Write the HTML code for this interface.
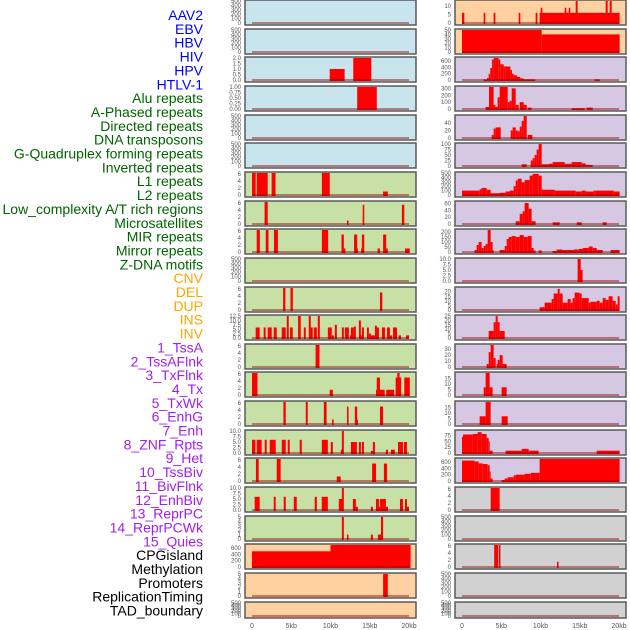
<!DOCTYPE html>
<html><head><meta charset="utf-8"><style>
body{margin:0;background:#fff;width:630px;height:630px;overflow:hidden}
svg{display:block}
</style></head><body>
<svg id="c" width="630" height="630" xmlns="http://www.w3.org/2000/svg"></svg>
<script>
const labels=["AAV2","EBV","HBV","HIV","HPV","HTLV-1","Alu repeats","A-Phased repeats","Directed repeats","DNA transposons","G-Quadruplex forming repeats","Inverted repeats","L1 repeats","L2 repeats","Low_complexity A/T rich regions","Microsatellites","MIR repeats","Mirror repeats","Z-DNA motifs","CNV","DEL","DUP","INS","INV","1_TssA","2_TssAFlnk","3_TxFlnk","4_Tx","5_TxWk","6_EnhG","7_Enh","8_ZNF_Rpts","9_Het","10_TssBiv","11_BivFlnk","12_EnhBiv","13_ReprPC","14_ReprPCWk","15_Quies","CPGisland","Methylation","Promoters","ReplicationTiming","TAD_boundary"];
const labelColors=["#0000ff","#0000ff","#0000ff","#0000ff","#0000ff","#0000ff","#006400","#006400","#006400","#006400","#006400","#006400","#006400","#006400","#006400","#006400","#006400","#006400","#006400","#ffa500","#ffa500","#ffa500","#ffa500","#ffa500","#a020f0","#a020f0","#a020f0","#a020f0","#a020f0","#a020f0","#a020f0","#a020f0","#a020f0","#a020f0","#a020f0","#a020f0","#a020f0","#a020f0","#a020f0","#000","#000","#000","#000","#000"];
const xTicks=[0,5,10,15,20];
const xTickLabels=["0","5kb","10kb","15kb","20kb"];
const T500=[0,100,200,300,400,500],T6=[0,2,4,6];
// left column: ticks, ymax, bars [startKb,endKb,value]
const leftTicks=[T500,T500,[0,0.5,1,1.5,2],[0,0.25,0.5,0.75,1],T500,T500,T6,T6,T6,T500,T6,[0,2.5,5,7.5,10,12.5],T6,T6,T6,[0,2.5,5,7.5,10],T6,[0,2.5,5,7.5,10],[0,1,2,3,4,5],[0,200,400,600],[0,1,2,3,4,5],T500];
const leftMax=[500,500,2,1,500,500,6.3,6.3,6.3,500,6.3,12.5,6.3,6.3,6.3,10,6.3,10,5,700,5,500];
const L2=[[9.9,11.8,1],[12.9,15.2,2]];
const L3=[[13.4,15.9,1]];
const L6=[[0,0.47,6.3],[0.6,2.0,6.3],[2.5,3.0,6.3],[8.9,9.9,6.3],[16.7,17.3,1]];
const L7=[[1.6,2.0,6.3],[12.1,12.3,1],[14.1,14.3,5.5],[19.1,19.4,5.5]];
const L8=[[0.6,1.0,6.3],[1.75,2.1,6.3],[2.8,3.3,6.3],[8.9,9.7,6.3],[11.4,11.7,5],[11.6,11.9,1],[13.0,13.4,5],[13.2,13.5,1],[13.9,14.1,1],[14.0,14.3,5],[16.0,16.3,1],[16.7,17.1,5],[16.9,17.3,1],[19.5,20.1,1]];
const L10=[[3.96,4.25,6.3],[4.9,5.2,6.3],[16.3,16.6,5]];
const L11=[[0.47,0.98,6],[1.49,1.74,6],[2.0,2.51,6],[2.77,3.15,6],[3.79,4.3,6],[4.43,4.68,12.5],[4.85,5.19,6],[5.87,6.21,12.5],[6.6,6.85,6],[7.23,7.49,12.5],[7.4,7.74,6],[7.87,8.26,6],[8.38,8.64,12.5],[9.66,10.17,6],[10.17,10.43,1.5],[10.55,10.81,7.5],[11.45,11.7,6],[11.83,12.34,6],[12.47,12.72,1.5],[12.6,12.98,6],[12.98,13.23,6.5],[13.62,13.87,10],[13.74,14.0,1.5],[14.0,14.26,6],[14.64,14.89,6],[14.89,15.15,2.5],[15.15,15.66,1.5],[15.66,15.91,7],[15.79,16.17,6],[16.55,16.94,6],[17.19,17.57,6],[17.57,17.83,1.5],[17.96,18.47,6],[18.68,18.98,1.5],[19.62,20.0,1.5]];
const L12=[[8.1,8.6,6.3]];
const L13=[[0,0.7,6.3],[9.9,10.3,1.5],[15.8,16.9,1.5],[15.9,16.3,5],[17.1,18.1,1.5],[18.3,19.0,5],[18.5,18.8,6.3],[19.4,20.1,5]];
const L14=[[4.0,4.3,6.3],[6.85,7.1,6.3],[9.15,9.5,6.3],[10.2,10.4,1.3],[12.1,12.3,5],[13.1,13.4,5],[13.2,13.5,1.2],[16.3,16.7,5]];
const L15=[[0,0.43,6],[0.6,1.23,6],[1.62,1.87,6],[2.26,3.02,6],[3.79,4.3,6],[4.55,4.8,6],[6.08,6.34,6],[8.89,9.66,6],[10.04,10.3,5],[11.32,11.57,1.5],[11.45,11.7,10],[12.6,13.36,5],[13.62,13.87,5],[14.0,14.26,5],[15.15,15.4,1],[15.4,15.66,5],[17.06,17.32,1.5],[17.7,18.2,1.5],[18.6,19.23,5],[19.36,19.74,5]];
const L16=[[0.5,0.85,6.3],[3.15,3.65,6.3],[10.8,11.3,1.3],[15.3,15.8,5],[16.8,17.2,5]];
const L17=[[0.34,0.98,6],[2.77,3.02,6],[4.04,4.3,6],[5.32,5.7,6],[7.99,8.26,6],[8.89,9.66,6],[11.06,11.57,5],[11.45,11.7,10],[12.85,13.23,5],[13.23,13.49,1.5],[15.15,15.4,1.5],[15.79,16.17,5],[16.04,16.3,1.5],[16.3,17.06,5],[17.06,17.32,1.5],[18.85,19.23,5],[19.49,19.74,5],[19.74,20.0,1.5]];
const L18=[[11.45,11.7,5],[12.1,12.3,1],[15.15,15.4,1],[16.04,16.43,1],[16.43,16.7,5]];
const L19=[[0,10,500],[10,20.2,700]];
const L20=[[16.7,17.3,5]];
const leftBars=[[],[],L2,L3,[],[],L6,L7,L8,[],L10,L11,L12,L13,L14,L15,L16,L17,L18,L19,L20,[]];
// right column
const rightTicks=[[0,5,10],[0,10,20,30,40,50],[0,200,400,600],[0,100,200,300],[0,20,40],[0,25,50,75,100],T500,[0,20,40,60],[0,50,100,150,200],[0,2.5,5,7.5,10],[0,5,10,15,20],[0,5,10,15,20,25],[0,10,20,30],[0,5,10,15],[0,5,10,15],[0,25,50,75],[0,200,400,600],T6,T500,T6,T500,T500];
const rightMax=[13,50,700,320,58,100,500,65,220,10,24,25,37,20,20,95,700,6.3,500,6.3,500,500];
const R0=[[0,0.3,6],[2.76,2.97,6],[4.03,4.25,6],[7.22,7.43,6],[9.38,9.6,6],[9.89,20.08,6],[10.02,10.23,9],[13.08,13.29,9],[13.59,13.8,9],[14.48,14.73,13],[18.3,18.56,13],[18.81,19.07,13]];
const R1=[[0,10.15,50],[10.15,20.08,40]];
const R2=[[2.76,3.18,20],[3.18,3.4,60],[3.4,3.6,200],[3.6,3.82,380],[3.82,4.03,650],[4.03,4.67,700],[4.67,4.88,650],[4.88,5.31,500],[5.31,5.52,430],[5.52,6.16,430],[6.16,6.37,320],[6.37,6.58,200],[6.58,7.0,150],[7.0,7.43,100],[7.43,7.86,50],[7.86,9.34,20],[16.9,17.54,20]];
const R3=[[3.01,3.44,30],[3.44,4.03,320],[4.03,4.25,60],[4.25,4.54,30],[4.54,4.8,170],[4.8,5.82,320],[5.82,6.07,100],[6.07,6.33,120],[6.33,6.84,300],[6.84,7.22,60],[7.35,7.86,100],[7.86,8.24,60],[8.37,8.87,20],[13.97,15.63,10],[15.88,16.65,20]];
const R4=[[3.78,4.03,8],[4.03,4.29,25],[4.29,4.93,28],[6.2,6.45,20],[6.45,6.84,28],[6.84,7.09,20],[7.09,7.35,18],[7.35,7.6,30],[7.6,7.86,45],[7.86,8.24,58],[8.37,8.96,8]];
const R5=[[7.6,8.24,8],[8.75,9.0,25],[9.0,9.26,35],[9.26,9.51,50],[9.51,9.77,75],[9.77,10.15,100],[10.15,11.04,8],[11.04,11.55,10],[11.55,13.08,18],[13.08,13.97,10],[13.97,15.24,18],[15.24,15.75,12],[15.75,16.65,5]];
const R6=[[0,2.25,100],[2.25,2.5,130],[2.5,3.14,160],[3.14,3.65,120],[3.65,4.8,40],[4.8,5.56,50],[5.56,6.07,80],[6.07,6.58,100],[6.58,6.84,200],[6.84,7.09,330],[7.09,7.6,370],[7.6,7.98,290],[7.98,8.62,340],[8.62,9.0,440],[9.0,9.77,480],[9.77,10.15,440],[10.15,11.8,120],[11.8,14.48,100],[14.48,15.24,80],[15.24,15.75,100],[15.75,16.77,80],[16.77,17.03,100],[17.03,19.32,100],[19.32,20.08,80]];
const R7=[[6.84,7.35,8],[7.35,7.73,30],[7.73,7.98,38],[7.98,8.49,62],[8.49,8.87,45],[8.87,9.38,8],[11.55,12.44,5],[14.61,15.24,5],[17.92,18.43,5]];
const R8=[[1.61,1.87,20],[1.87,2.12,70],[2.12,2.5,100],[2.5,2.76,40],[2.76,3.01,60],[3.01,3.27,80],[3.27,3.65,220],[3.65,3.9,100],[3.9,4.03,20],[4.8,5.44,20],[5.44,5.69,60],[5.69,5.94,130],[5.94,6.33,150],[6.33,6.84,160],[6.84,7.35,150],[7.35,7.86,170],[7.86,8.37,150],[8.37,8.87,160],[8.87,9.13,40],[9.13,9.38,15],[9.77,10.15,15],[11.55,12.06,10],[12.06,12.82,25],[12.82,14.23,20],[14.23,14.86,25],[14.86,15.37,30],[15.37,16.14,40],[16.14,16.65,55],[16.65,17.16,40],[17.16,17.92,20],[18.94,20.08,20]];
const R9=[[14.73,15.12,10],[14.99,15.37,5]];
const R10=[[9.89,10.53,3],[10.53,11.42,8],[11.42,11.68,12],[11.68,12.19,18],[12.19,12.44,23],[12.44,12.82,18],[12.82,13.46,8],[13.46,13.84,12],[13.84,14.1,8],[14.1,14.35,13],[14.35,14.99,19],[14.99,15.24,18],[15.24,16.14,13],[16.14,16.39,8],[16.39,17.16,9],[17.16,17.54,10],[17.54,17.92,8],[17.92,18.3,13],[18.3,18.68,11],[18.68,19.19,15],[19.19,19.58,10],[19.58,19.83,6],[19.83,20.08,15]];
const R11=[[3.4,4.03,8],[4.03,4.29,18],[4.29,4.54,25],[4.54,4.8,18],[4.8,5.44,8]];
const R12=[[3.14,3.4,5],[3.4,3.65,25],[3.65,4.03,37],[4.03,4.29,15],[4.42,4.67,5],[4.54,4.8,12],[4.8,5.18,20],[5.18,5.69,5]];
const R13=[[2.76,3.01,7],[3.01,3.52,20],[3.52,3.9,7],[5.05,5.69,7]];
const R14=[[2.25,3.01,7],[3.01,3.65,20],[5.05,5.82,7]];
const R15=[[0,0.13,70],[0.13,1.36,80],[1.36,2.0,82],[2.0,2.5,90],[2.5,3.14,82],[3.14,3.4,65],[3.4,3.52,50],[3.52,3.9,10],[5.56,7.6,10],[7.6,8.49,18],[8.49,9.77,10],[17.16,20.08,10]];
const R16=[[0,1.61,650],[1.61,2.12,620],[2.12,2.63,560],[2.63,3.27,540],[3.27,3.52,500],[3.52,3.65,300],[3.65,3.9,80],[5.05,5.44,30],[5.44,5.82,80],[5.82,6.58,120],[6.58,6.84,180],[6.84,7.98,200],[7.98,8.75,230],[8.75,9.89,260],[9.89,20.08,700]];
const R17=[[3.65,4.8,6.3]];
const R19=[[4.1,4.6,6.3],[4.7,4.9,6.3],[12.1,12.3,1.5]];
const rightBars=[R0,R1,R2,R3,R4,R5,R6,R7,R8,R9,R10,R11,R12,R13,R14,R15,R16,R17,[],R19,[],[]];

const NS="http://www.w3.org/2000/svg";
const svg=document.getElementById('c');
function mk(tag,attrs,parent){const e=document.createElementNS(NS,tag);for(const k in attrs)e.setAttribute(k,attrs[k]);(parent||svg).appendChild(e);return e;}
const rowTop=r=>Math.round(r*28.65);
const rowH=r=>r===21?16:25;
const colLeft=[245,455];
const PW=171;
const xScale=(col,kb)=>colLeft[col]+7+kb*7.85;
const leftBg=r=>r<6?"#c8e4ec":(r<19?"#c7e0a5":"#ffd1a1");
const rightBg=r=>r<2?"#ffd1a1":(r<17?"#d6c7e3":"#d1d1d1");

// labels
labels.forEach((t,i)=>{
  const e=mk('text',{x:203,y:15+i*13.85+5,'text-anchor':'end','font-family':'Liberation Sans, sans-serif','font-size':'14',fill:labelColors[i]});
  e.textContent=t;
  
  
});

function panel(col,r,ticks,ymax,bars){
  const top=rowTop(r),h=rowH(r),x0=colLeft[col];
  const g=mk('g',{});
  
  
  mk('rect',{x:x0,y:top,width:PW,height:h,fill:col?rightBg(r):leftBg(r)},g);
  const y0=top+h-2,y1=top+1;
  const yS=v=>y0-(v/ymax)*(y0-y1);
  bars.forEach(b=>{
    const xa=xScale(col,b[0]),xb=xScale(col,b[1]);
    const yv=yS(Math.min(b[2],ymax));
    const re=mk('rect',{x:xa,y:yv,width:Math.max(1,xb-xa),height:y0-yv+1,fill:'#ff0000'},g);
    
    
  });
  mk('rect',{x:xScale(col,0),y:y0-1,width:xScale(col,20)-xScale(col,0),height:2,fill:'rgba(150,0,0,0.45)'},g);
  mk('rect',{x:x0,y:top,width:PW,height:h,fill:'none',stroke:'#5a5a5a','stroke-width':1.5},g);
  ticks.forEach(t=>{
    const tx=mk('text',{x:x0-4,y:yS(t)+2,'text-anchor':'end','font-family':'Liberation Sans, sans-serif','font-size':'6',fill:'#555'},g);
    tx.textContent=(ticks.some(v=>v%1!==0)?(ticks.some(v=>(v*10)%1!==0)?t.toFixed(2):t.toFixed(1)):String(t));
    
    
  });
}
for(let r=0;r<22;r++){panel(0,r,leftTicks[r],leftMax[r],leftBars[r]);panel(1,r,rightTicks[r],rightMax[r],rightBars[r]);}
[0,1].forEach(col=>{
  xTicks.forEach((v,i)=>{
    const t=mk('text',{x:xScale(col,v),y:628,'text-anchor':'middle','font-family':'Liberation Sans, sans-serif','font-size':'7',fill:'#555'});
    t.textContent=xTickLabels[i];
    
    
  });
});
</script>
</body></html>
